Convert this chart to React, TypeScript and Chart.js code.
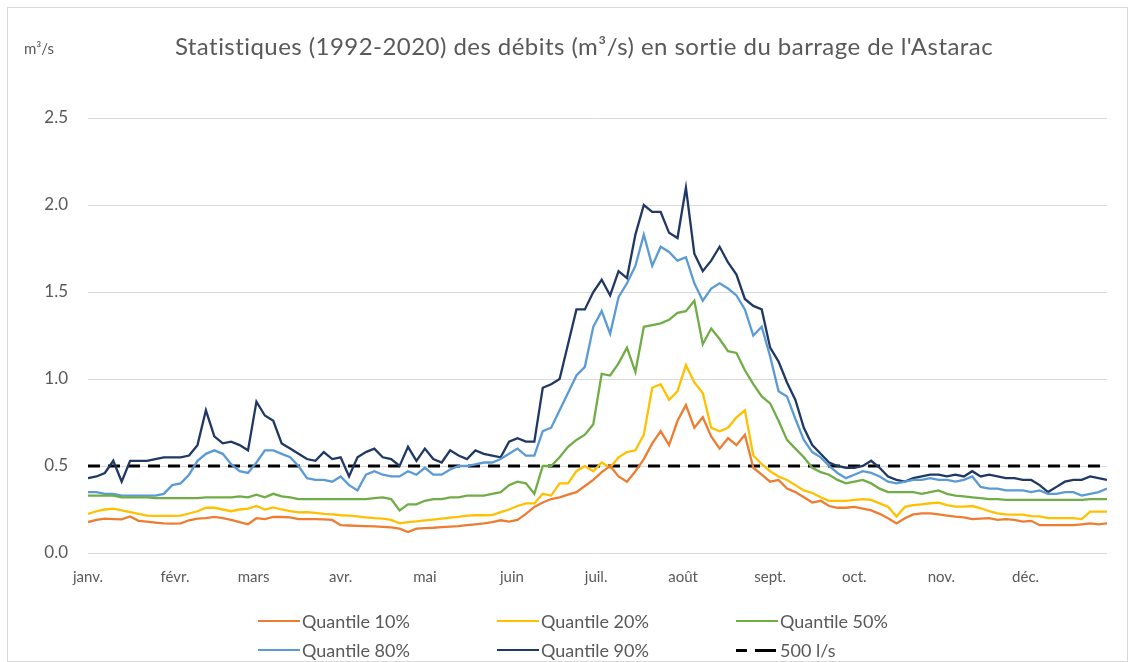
import React, { useEffect, useRef } from "react";
import { Chart, registerables } from "chart.js";

Chart.register(...registerables);

// Sample days (day of year, every 3 days)
const sampleDays: number[] = Array.from({ length: 122 }, (_, i) => i * 3);

const monthStarts = [0, 31, 59, 90, 120, 151, 181, 212, 243, 273, 304, 334];
const monthLabels = ["janv.", "févr.", "mars", "avr.", "mai", "juin", "juil.", "août", "sept.", "oct.", "nov.", "déc."];

const yTicks = [0, 0.5, 1, 1.5, 2, 2.5];

const q10 = [
  0.178, 0.19, 0.197, 0.195, 0.193, 0.21, 0.185, 0.18, 0.175, 0.17,
  0.169, 0.17, 0.188, 0.197, 0.2, 0.207, 0.2, 0.19, 0.178, 0.165,
  0.2, 0.195, 0.207, 0.207, 0.205, 0.195, 0.195, 0.195, 0.193, 0.19,
  0.16, 0.158, 0.156, 0.155, 0.153, 0.15, 0.147, 0.14, 0.12, 0.14,
  0.143, 0.145, 0.149, 0.152, 0.155, 0.16, 0.165, 0.17, 0.178, 0.188,
  0.18, 0.19, 0.225, 0.265, 0.29, 0.31, 0.32, 0.335, 0.35, 0.385,
  0.42, 0.465, 0.5, 0.44, 0.41, 0.47, 0.54, 0.63, 0.7, 0.62,
  0.76, 0.85, 0.72, 0.78, 0.67, 0.6, 0.66, 0.62, 0.68, 0.49,
  0.45, 0.41, 0.42, 0.37, 0.35, 0.32, 0.29, 0.3, 0.27, 0.26,
  0.26, 0.265, 0.255, 0.245, 0.225, 0.2, 0.17, 0.2, 0.222, 0.228,
  0.228, 0.222, 0.215, 0.209, 0.205, 0.195, 0.198, 0.2, 0.19, 0.195,
  0.19, 0.18, 0.185, 0.16, 0.16, 0.16, 0.16, 0.16, 0.165, 0.17,
  0.165, 0.17,
];

const q20 = [
  0.225, 0.24, 0.25, 0.255, 0.245, 0.235, 0.225, 0.215, 0.213, 0.213,
  0.213, 0.215, 0.227, 0.24, 0.26, 0.26, 0.25, 0.24, 0.25, 0.255,
  0.27, 0.25, 0.262, 0.25, 0.24, 0.233, 0.235, 0.23, 0.225, 0.222,
  0.217, 0.215, 0.21, 0.205, 0.2, 0.197, 0.19, 0.17, 0.178, 0.182,
  0.188, 0.192, 0.197, 0.203, 0.207, 0.215, 0.217, 0.217, 0.218, 0.235,
  0.25, 0.27, 0.285, 0.285, 0.34, 0.33, 0.4, 0.4, 0.47, 0.5,
  0.47, 0.52, 0.49, 0.55, 0.58, 0.59, 0.68, 0.95, 0.97, 0.88,
  0.93, 1.08, 0.98, 0.92, 0.72, 0.7, 0.72, 0.78, 0.82, 0.56,
  0.51, 0.47, 0.44, 0.42, 0.39, 0.36, 0.345, 0.32, 0.3, 0.3,
  0.3, 0.305, 0.31, 0.305, 0.285, 0.266, 0.21, 0.265, 0.275, 0.28,
  0.286, 0.29, 0.275, 0.266, 0.266, 0.27, 0.257, 0.24, 0.228, 0.222,
  0.22, 0.22, 0.212, 0.21, 0.2, 0.2, 0.2, 0.2, 0.195, 0.238,
  0.238, 0.238,
];

const q50 = [
  0.33, 0.33, 0.33, 0.33, 0.32, 0.32, 0.32, 0.32, 0.315, 0.315,
  0.315, 0.315, 0.315, 0.315, 0.32, 0.32, 0.32, 0.32, 0.325, 0.32,
  0.335, 0.32, 0.34, 0.325, 0.32, 0.31, 0.31, 0.31, 0.31, 0.31,
  0.31, 0.31, 0.31, 0.31, 0.315, 0.32, 0.31, 0.245, 0.28, 0.28,
  0.3, 0.31, 0.31, 0.32, 0.32, 0.33, 0.33, 0.33, 0.34, 0.35,
  0.39, 0.41, 0.4, 0.34, 0.5, 0.5, 0.55, 0.61, 0.65, 0.68,
  0.74, 1.03, 1.02, 1.09, 1.18, 1.04, 1.3, 1.31, 1.32, 1.34,
  1.38, 1.39, 1.45, 1.2, 1.29, 1.23, 1.16, 1.15, 1.05, 0.97,
  0.9, 0.86, 0.76, 0.65, 0.6, 0.55, 0.49, 0.465, 0.45, 0.42,
  0.4, 0.41, 0.42, 0.4, 0.37, 0.35, 0.35, 0.35, 0.35, 0.34,
  0.35, 0.36, 0.34, 0.33, 0.325, 0.32, 0.315, 0.31, 0.31, 0.305,
  0.305, 0.305, 0.305, 0.305, 0.305, 0.305, 0.305, 0.305, 0.305, 0.31,
  0.31, 0.31,
];

const q80 = [
  0.35, 0.35, 0.34, 0.34, 0.33, 0.33, 0.33, 0.33, 0.33, 0.34,
  0.39, 0.4, 0.45, 0.53, 0.57, 0.59, 0.57, 0.51, 0.47, 0.46,
  0.52, 0.59, 0.59, 0.57, 0.55, 0.5, 0.43, 0.42, 0.42, 0.41,
  0.44, 0.39, 0.36, 0.45, 0.47, 0.45, 0.44, 0.44, 0.47, 0.45,
  0.49, 0.45, 0.45, 0.48, 0.5, 0.5, 0.51, 0.52, 0.52, 0.54,
  0.57, 0.6, 0.56, 0.56, 0.7, 0.72, 0.82, 0.92, 1.02, 1.07,
  1.3, 1.39, 1.26, 1.47, 1.55, 1.65, 1.83, 1.65, 1.76, 1.73,
  1.68, 1.7, 1.55, 1.45, 1.52, 1.55, 1.52, 1.48, 1.4, 1.25,
  1.3, 1.13, 0.93, 0.9, 0.77, 0.65, 0.58, 0.55, 0.5, 0.46,
  0.43, 0.45, 0.47, 0.46, 0.44, 0.41, 0.4, 0.41, 0.42, 0.42,
  0.43, 0.42, 0.42, 0.41, 0.42, 0.44, 0.38, 0.37, 0.37, 0.36,
  0.36, 0.36, 0.35, 0.36, 0.34, 0.34, 0.35, 0.35, 0.33, 0.34,
  0.35, 0.37,
];

const q90 = [
  0.43, 0.44, 0.46, 0.53, 0.41, 0.53, 0.53, 0.53, 0.54, 0.55,
  0.55, 0.55, 0.56, 0.62, 0.82, 0.67, 0.63, 0.64, 0.62, 0.59,
  0.87, 0.79, 0.76, 0.63, 0.6, 0.57, 0.54, 0.53, 0.58, 0.54,
  0.55, 0.44, 0.55, 0.58, 0.6, 0.55, 0.54, 0.5, 0.61, 0.53,
  0.6, 0.54, 0.52, 0.59, 0.56, 0.54, 0.59, 0.57, 0.56, 0.55,
  0.64, 0.66, 0.64, 0.64, 0.95, 0.97, 1.0, 1.2, 1.4, 1.4,
  1.5, 1.57, 1.48, 1.62, 1.58, 1.83, 2.0, 1.96, 1.96, 1.84,
  1.81, 2.1, 1.72, 1.62, 1.68, 1.76, 1.67, 1.6, 1.46, 1.42,
  1.4, 1.18, 1.1, 0.98, 0.88, 0.72, 0.62, 0.57, 0.52, 0.5,
  0.49, 0.49, 0.5, 0.53, 0.49, 0.44, 0.42, 0.41, 0.43, 0.44,
  0.45, 0.45, 0.44, 0.45, 0.44, 0.47, 0.44, 0.45, 0.44, 0.43,
  0.43, 0.42, 0.42, 0.39, 0.35, 0.38, 0.41, 0.42, 0.42, 0.44,
  0.43, 0.42,
];

const thresholdValue = 0.5; // 500 l/s

const seriesNames = ["Quantile 10%", "Quantile 20%", "Quantile 50%", "Quantile 80%", "Quantile 90%", "500 l/s"];
const seriesColors = ["#ED7D31", "#FFC000", "#70AD47", "#5B9BD5", "#203864", "#000000"];

const TITLE = "Statistiques (1992-2020) des débits (m³/s) en sortie du barrage de l'Astarac";
const FONT = "Lato, 'Open Sans', sans-serif";
const TEXT = "#595959";

const W = 1135;
const H = 662;
const PLOT_LEFT = 88;
const PLOT_RIGHT = 1107;
const PLOT_TOP = 118;
const PLOT_BOTTOM = 553;
const X_AXIS_H = 40;

export default function App() {
  const ref = useRef<HTMLCanvasElement | null>(null);

  useEffect(() => {
    if (!ref.current) return;
    const mk = (vals: number[]) => vals.map((v, i) => ({ x: sampleDays[i], y: v }));
    const lastDay = sampleDays[sampleDays.length - 1];
    const lines = [q10, q20, q50, q80, q90];
    const datasets: any[] = lines.map((vals, i) => ({
      label: seriesNames[i],
      data: mk(vals),
      borderColor: seriesColors[i],
      backgroundColor: seriesColors[i],
      borderWidth: 2.3,
      pointRadius: 0,
      tension: 0,
      fill: false,
    }));
    datasets.push({
      label: seriesNames[5],
      data: [
        { x: sampleDays[0], y: thresholdValue },
        { x: lastDay, y: thresholdValue },
      ],
      borderColor: seriesColors[5],
      borderWidth: 3,
      borderDash: [12, 8],
      pointRadius: 0,
      fill: false,
    });

    const chart = new Chart(ref.current, {
      type: "line",
      data: { datasets },
      options: {
        animation: false,
        responsive: false,
        devicePixelRatio: 1,
        layout: {
          padding: {
            left: 0,
            right: W - PLOT_RIGHT,
            top: PLOT_TOP,
            bottom: H - PLOT_BOTTOM - X_AXIS_H,
          },
        },
        plugins: {
          legend: { display: false },
          title: { display: false },
          tooltip: { enabled: false },
        },
        scales: {
          x: {
            type: "linear",
            min: 0,
            max: lastDay,
            grid: { display: false, drawTicks: false },
            border: { display: false },
            afterBuildTicks: (scale: any) => {
              scale.ticks = monthStarts.map((v) => ({ value: v }));
            },
            afterFit: (scale: any) => {
              scale.height = X_AXIS_H;
            },
            ticks: {
              autoSkip: false,
              maxRotation: 0,
              minRotation: 0,
              padding: 15,
              color: TEXT,
              font: { family: FONT, size: 15 },
              callback: (value: any) => {
                const idx = monthStarts.indexOf(Number(value));
                return idx >= 0 ? monthLabels[idx] : "";
              },
            },
          },
          y: {
            min: 0,
            max: 2.5,
            afterBuildTicks: (scale: any) => {
              scale.ticks = yTicks.map((v) => ({ value: v }));
            },
            afterFit: (scale: any) => {
              scale.width = PLOT_LEFT;
            },
            grid: { color: "#D9D9D9", lineWidth: 1, drawTicks: false },
            border: { display: false },
            ticks: {
              padding: 20,
              color: TEXT,
              font: { family: FONT, size: 17 },
              callback: (value: any) => Number(value).toFixed(1),
            },
          },
        },
      },
    });
    return () => chart.destroy();
  }, []);

  const colX = [258, 497, 736];
  const rowY = [621, 650];

  return (
    <div style={{ position: "absolute", left: 0, top: 0, width: W, height: H, background: "#fff", fontFamily: FONT, color: TEXT }}>
      <div
        style={{
          position: "absolute",
          left: 7,
          top: 7,
          width: W - 14,
          height: H - 7,
          border: "1px solid #D9D9D9",
          boxSizing: "border-box",
        }}
      />
      <canvas ref={ref} width={W} height={H} style={{ position: "absolute", left: 0, top: 0, width: W, height: H }} />
      <div
        style={{
          position: "absolute",
          left: 584,
          top: 31,
          transform: "translateX(-50%)",
          fontSize: 24,
          letterSpacing: "0.45px",
          lineHeight: "30px",
          whiteSpace: "nowrap",
        }}
      >
        {TITLE}
      </div>
      <div style={{ position: "absolute", left: 24, top: 38, fontSize: 15, lineHeight: "20px" }}>m³/s</div>
      {seriesNames.map((name, i) => {
        const col = i % 3;
        const row = Math.floor(i / 3);
        const x = colX[col];
        const y = rowY[row];
        const isDash = i === 5;
        return (
          <div key={name} style={{ position: "absolute", left: x, top: y - 12, height: 24, display: "flex", alignItems: "center", whiteSpace: "nowrap" }}>
            {isDash ? (
              <div style={{ width: 42, height: 3, position: "relative" }}>
                <div style={{ position: "absolute", left: 0, top: 0, width: 11, height: 3, background: "#000" }} />
                <div style={{ position: "absolute", left: 19, top: 0, width: 21, height: 3, background: "#000" }} />
              </div>
            ) : (
              <div style={{ width: 42, height: 2, background: seriesColors[i] }} />
            )}
            <span style={{ fontSize: 18, marginLeft: 2 }}>{name}</span>
          </div>
        );
      })}
    </div>
  );
}
